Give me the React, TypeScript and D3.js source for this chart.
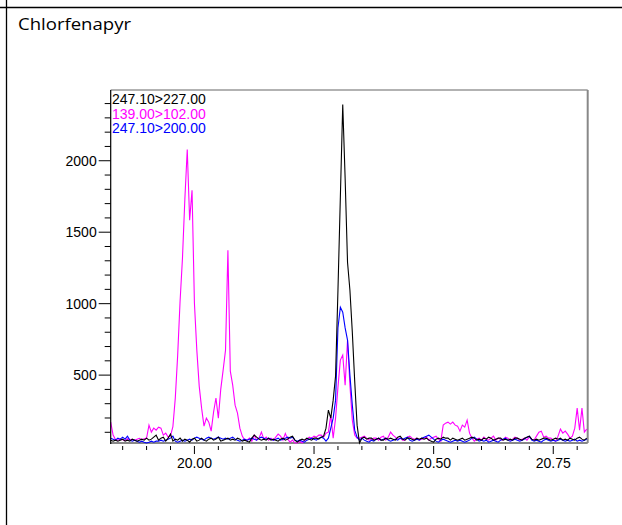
import React from 'react';
import * as d3 from 'd3';

// ---- data ----
const TITLE = 'Chlorfenapyr';
const SERIES_NAMES = ['247.10>227.00', '139.00>102.00', '247.10>200.00'];
const SERIES_COLORS = ['#000000', '#ff00ff', '#0000ff'];
const T_START = 19.825;
const T_STEP = 0.005;
const X_MAJOR = [20.0, 20.25, 20.5, 20.75];
const X_TICK_LABELS = ['20.00', '20.25', '20.50', '20.75'];
const Y_MAJOR = [500, 1000, 1500, 2000];
const Y_TICK_LABELS = ['500', '1000', '1500', '2000'];

// 247.10>227.00 (black)
const black = [
  45, 38, 45, 38, 45, 52, 38, 45, 38, 52,
  45, 38, 45, 52, 45, 59, 45, 52, 66, 80,
  45, 59, 66, 38, 59, 87, 38, 52, 45, 59,
  38, 52, 45, 31, 52, 59, 38, 45, 59, 45,
  38, 52, 59, 45, 52, 66, 38, 45, 52, 59,
  45, 52, 45, 59, 52, 38, 45, 38, 31, 59,
  80, 66, 52, 45, 52, 45, 59, 45, 52, 45,
  38, 52, 59, 45, 52, 66, 73, 45, 31, 45,
  52, 45, 59, 52, 45, 59, 59, 52, 66, 73,
  129, 255, 199, 325, 493, 1094, 1745, 2393, 1878, 1290,
  1094, 801, 458, 150, 25, 59, 66, 52, 59, 59,
  45, 52, 59, 45, 45, 59, 52, 59, 52, 45,
  66, 73, 52, 45, 59, 59, 52, 45, 59, 52,
  59, 52, 59, 45, 38, 31, 52, 59, 52, 66,
  59, 59, 45, 59, 52, 45, 52, 59, 45, 52,
  59, 66, 59, 45, 52, 45, 59, 52, 66, 59,
  45, 52, 59, 59, 45, 52, 45, 52, 45, 59,
  59, 52, 45, 59, 66, 73, 52, 45, 52, 45,
  52, 59, 59, 52, 45, 52, 59, 52, 59, 45,
  52, 45, 59, 52, 45, 59, 66, 52, 45, 59,
];

// 139.00>102.00 (magenta)
const magenta = [
  171, 80, 50, 45, 52, 48, 42, 55, 47, 50,
  44, 52, 58, 48, 55, 60, 150, 101, 129, 115,
  136, 129, 80, 94, 66, 75, 140, 339, 640, 1017,
  1318, 1731, 2078, 1584, 1794, 1003, 675, 423, 269, 143,
  199, 171, 108, 241, 340, 199, 400, 535, 675, 1374,
  528, 430, 290, 234, 129, 73, 45, 45, 59, 38,
  80, 45, 59, 101, 52, 66, 45, 59, 45, 66,
  87, 73, 45, 92, 52, 31, 45, 25, 25, 38,
  25, 45, 52, 66, 59, 73, 66, 80, 80, 66,
  94, 101, 220, 59, 199, 416, 605, 640, 430, 745,
  430, 185, 80, 59, 59, 66, 73, 59, 45, 52,
  59, 59, 45, 66, 73, 45, 66, 101, 80, 66,
  52, 59, 45, 45, 66, 73, 59, 52, 59, 45,
  52, 59, 66, 45, 59, 66, 73, 52, 38, 150,
  164, 171, 157, 171, 150, 143, 108, 150, 136, 185,
  94, 59, 38, 52, 59, 45, 66, 52, 45, 59,
  73, 45, 59, 52, 45, 66, 59, 45, 52, 66,
  59, 45, 52, 59, 45, 66, 52, 45, 73, 101,
  108, 66, 73, 59, 59, 45, 38, 73, 122, 94,
  108, 87, 59, 73, 129, 269, 115, 269, 101, 122,
];

// 247.10>200.00 (blue)
const blue = [
  59, 52, 45, 59, 52, 66, 52, 73, 45, 38,
  45, 38, 31, 38, 31, 25, 31, 38, 31, 38,
  38, 45, 38, 45, 52, 59, 73, 38, 31, 38,
  45, 38, 45, 52, 45, 59, 66, 59, 52, 45,
  59, 66, 59, 52, 59, 66, 59, 52, 59, 52,
  59, 66, 52, 45, 38, 45, 52, 45, 52, 59,
  52, 45, 59, 66, 59, 52, 59, 52, 45, 52,
  59, 45, 52, 59, 66, 59, 66, 45, 38, 45,
  38, 31, 45, 52, 59, 52, 45, 59, 66, 59,
  38, 59, 129, 199, 325, 830, 975, 940, 830, 745,
  500, 290, 115, 66, 45, 59, 45, 38, 31, 45,
  38, 52, 59, 45, 52, 59, 45, 38, 45, 52,
  45, 59, 52, 59, 66, 45, 38, 45, 52, 45,
  59, 66, 73, 80, 66, 52, 38, 31, 45, 52,
  45, 38, 31, 38, 45, 38, 45, 38, 31, 38,
  45, 59, 66, 52, 38, 45, 38, 45, 31, 38,
  45, 38, 31, 45, 52, 59, 45, 38, 45, 52,
  45, 38, 45, 52, 66, 73, 45, 38, 45, 38,
  31, 45, 52, 45, 38, 45, 38, 45, 52, 45,
  38, 45, 38, 45, 52, 38, 45, 38, 45, 52,
];

const times = black.map((_, i) => +(T_START + T_STEP * i).toFixed(3));

export default function App() {
  const W = 622;
  const H = 525;
  const left = 110.7;
  const right = 587.7;
  const top = 90;
  const bottom = 443;

  const x = d3.scaleLinear().domain([19.825, 20.822]).range([left, right]);
  const y = d3.scaleLinear().domain([25, 2495]).range([bottom, top]);

  const xMinor = d3.range(19.85, 20.81, 0.05).filter(
    (t) => !X_MAJOR.some((m) => Math.abs(m - t) < 1e-6)
  );
  const yMinor = d3.range(100, 2500, 100).filter((v) => !Y_MAJOR.includes(v));

  const line = d3
    .line<number>()
    .x((_, i) => x(times[i]))
    .y((d) => y(d));

  const series = [magenta, blue, black];
  const seriesColors = [SERIES_COLORS[1], SERIES_COLORS[2], SERIES_COLORS[0]];
  const font = "'Liberation Sans', Arial, sans-serif";

  return (
    <svg
      width={W}
      height={H}
      style={{ position: 'absolute', left: 0, top: 0, background: '#fff' }}
    >
      <rect x={0} y={0} width={W} height={H} fill="#fff" />
      {/* outer table frame */}
      <line x1={6.5} x2={6.5} y1={0} y2={H} stroke="#000" strokeWidth={1.3} />
      <line x1={0} x2={W} y1={7.5} y2={7.5} stroke="#000" strokeWidth={1.3} />
      <text
        x={18}
        y={30}
        fontFamily="'Open Sans', 'Noto Sans', sans-serif"
        fontSize={17}
        textLength={113}
        lengthAdjust="spacingAndGlyphs"
        fill="#000"
      >
        {TITLE}
      </text>

      {/* plot frame */}
      <line x1={left} x2={right} y1={top} y2={top} stroke="#666" strokeWidth={1.2} />
      <line x1={right} x2={right} y1={top} y2={bottom} stroke="#888" strokeWidth={2} />
      <line x1={left} x2={right} y1={bottom} y2={bottom} stroke="#888" strokeWidth={2} />

      {/* series */}
      {series.map((s, k) => (
        <path key={k} d={line(s) || ''} fill="none" stroke={seriesColors[k]} strokeWidth={1.1} />
      ))}

      <line x1={left} x2={left} y1={top} y2={bottom + 1} stroke="#000" strokeWidth={1.2} />

      {/* y ticks */}
      {yMinor.map((v) => (
        <line key={'ym' + v} x1={left - 6} x2={left} y1={y(v)} y2={y(v)} stroke="#000" strokeWidth={1} />
      ))}
      {Y_MAJOR.map((v, i) => (
        <g key={'yM' + v}>
          <line x1={left - 12} x2={left} y1={y(v)} y2={y(v)} stroke="#000" strokeWidth={1} />
          <text
            x={left - 14}
            y={y(v)}
            dy="0.36em"
            textAnchor="end"
            fontFamily={font}
            fontSize={14}
            fill="#000"
          >
            {Y_TICK_LABELS[i]}
          </text>
        </g>
      ))}

      {/* x ticks */}
      {xMinor.map((t) => (
        <line key={'xm' + t} x1={x(t)} x2={x(t)} y1={bottom + 3} y2={bottom + 7} stroke="#000" strokeWidth={1} />
      ))}
      {X_MAJOR.map((t, i) => (
        <g key={'xM' + t}>
          <line x1={x(t)} x2={x(t)} y1={bottom + 3} y2={bottom + 11} stroke="#000" strokeWidth={1} />
          <text
            x={x(t)}
            y={bottom + 25}
            textAnchor="middle"
            fontFamily={font}
            fontSize={14}
            fill="#000"
          >
            {X_TICK_LABELS[i]}
          </text>
        </g>
      ))}

      {/* legend */}
      {SERIES_NAMES.map((n, i) => (
        <text
          key={n + i}
          x={112}
          y={104 + i * 14.7}
          fontFamily={font}
          fontSize={14}
          fill={SERIES_COLORS[i]}
        >
          {n}
        </text>
      ))}
    </svg>
  );
}
